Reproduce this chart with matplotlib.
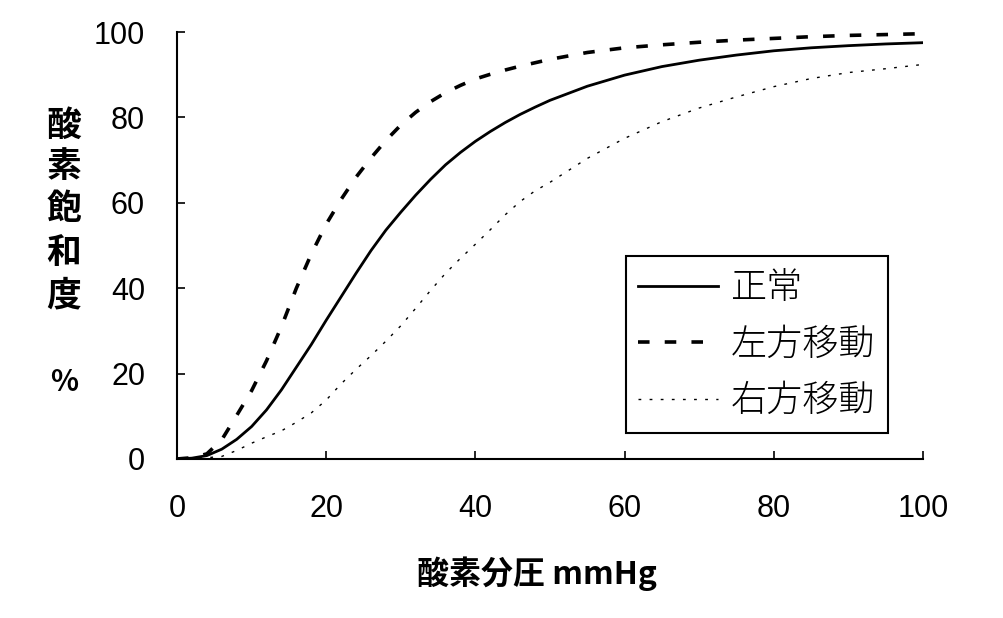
import matplotlib
matplotlib.use('Agg')
import matplotlib.pyplot as plt

# oxygen partial pressure (mmHg) and saturation (%)
po2 = [0, 2, 4, 6, 8, 10, 12, 14, 16, 18, 20, 22, 24, 26, 28, 30, 32, 34, 36, 38,
       40, 42, 44, 46, 48, 50, 55, 60, 65, 70, 75, 80, 85, 90, 95, 100]
normal = [0, 0.2, 0.8, 2.3, 4.6, 7.6, 11.5, 16.2, 21.5, 26.8, 32.5, 38, 43.5, 48.8,
          53.6, 57.8, 61.8, 65.5, 68.9, 71.8, 74.4, 76.7, 78.8, 80.7, 82.4, 84,
          87.3, 89.9, 91.9, 93.4, 94.6, 95.6, 96.3, 96.8, 97.2, 97.5]
left_shift = [0, 0.3, 1.2, 4.5, 10.2, 16, 23, 31, 40, 48, 55, 60.8, 66, 70.5,
              74.6, 78.2, 81.2, 83.7, 85.8, 87.5, 89, 90.1, 91.1, 92, 92.8, 93.6,
              95.2, 96.3, 97, 97.6, 98.1, 98.5, 98.9, 99.2, 99.4, 99.6]
right_shift = [0, 0.1, 0.3, 0.6, 2.0, 3.7, 5.2, 6.6, 8.6, 10.8, 13.8, 17.6, 21,
               24.2, 27.6, 31.2, 35.3, 39.5, 43.5, 47, 50.3, 53.7, 57.2, 60.3,
               62.8, 64.8, 70.4, 75.1, 79, 82.2, 84.8, 87.2, 89.1, 90.5, 91.4, 92.4]

labels = ['正常', '左方移動', '右方移動']
xticks = [0, 20, 40, 60, 80, 100]
yticks = [0, 20, 40, 60, 80, 100]
ylabel_chars = ['酸', '素', '飽', '和', '度']

cjk = ['Noto Sans CJK JP', 'DejaVu Sans']

fig = plt.figure(figsize=(10.04, 6.18), dpi=100)
ax = fig.add_axes([177 / 1004, 1 - 459 / 618, 746 / 1004, 427 / 618])

ax.plot(po2, normal, color='black', lw=2.0, label=labels[0])
ax.plot(po2, left_shift, color='black', lw=2.6, linestyle=(0, (3.2, 4.2)), label=labels[1])
ax.plot(po2, right_shift, color='black', lw=1.0, linestyle=(0, (2, 6)), label=labels[2])

ax.set_xlim(0, 100)
ax.set_ylim(0, 100)
ax.set_xticks(xticks)
ax.set_yticks(yticks)
for s in ['top', 'right']:
    ax.spines[s].set_visible(False)
for s in ['left', 'bottom']:
    ax.spines[s].set_linewidth(1.5)
ax.tick_params(direction='in', length=6, width=1.2, labelsize=22, pad=23)
ax.tick_params(axis='x', pad=25)
for t in ax.get_xticklabels() + ax.get_yticklabels():
    t.set_fontfamily('Liberation Sans')

leg = ax.legend(loc='lower right', bbox_to_anchor=(0.953, 0.061), borderaxespad=0,
                fancybox=False, framealpha=1, edgecolor='black',
                prop={'family': cjk, 'size': 26, 'weight': 'light'},
                handlelength=2.2, handletextpad=0.36, labelspacing=0.5,
                borderpad=0.35)
leg.get_frame().set_linewidth(1.5)

# vertical y label, one character per row
ys = [125, 166, 209, 253, 295]
for ch, y in zip(ylabel_chars, ys):
    fig.text(64 / 1004, 1 - y / 618, ch, ha='center', va='center',
             fontsize=25, fontweight='bold', family=cjk)
fig.text(64 / 1004, 1 - 382 / 618, '%', ha='center', va='center',
         fontsize=21, fontweight='bold', family=cjk)

fig.text(537 / 1004, 1 - 574 / 618, '酸素分圧 mmHg', ha='center', va='center',
         fontsize=23, fontweight='bold', family=cjk)

fig.savefig('out.png', dpi=100)
